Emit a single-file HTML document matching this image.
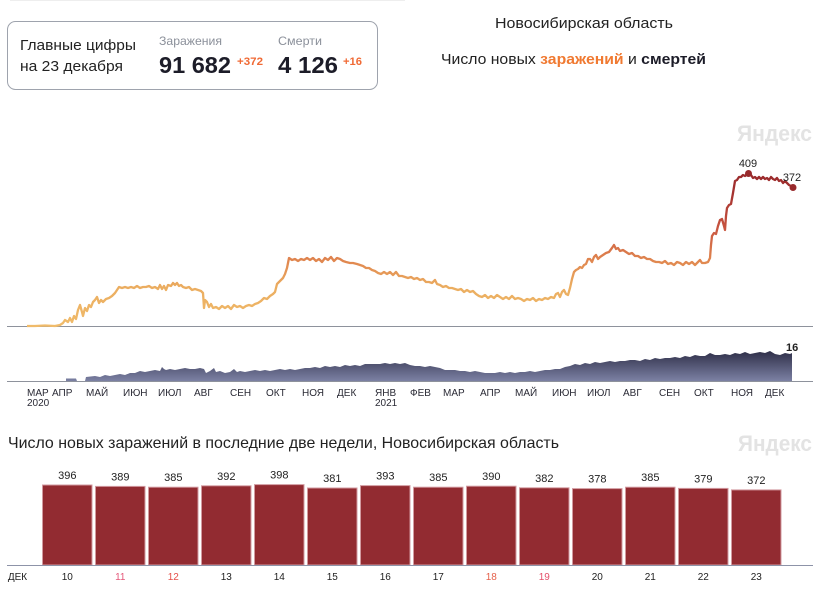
<!DOCTYPE html>
<html><head><meta charset="utf-8"><style>
html,body{margin:0;padding:0;background:#fff;}
svg{display:block;font-family:"Liberation Sans","DejaVu Sans",sans-serif;}
</style></head><body>
<svg width="837" height="593" viewBox="0 0 837 593" xmlns="http://www.w3.org/2000/svg">
<defs>
<linearGradient id="lg" gradientUnits="userSpaceOnUse" x1="0" y1="326" x2="0" y2="170">
<stop offset="0" stop-color="#f0bb6a"/>
<stop offset="0.25" stop-color="#ebad60"/>
<stop offset="0.42" stop-color="#e0864f"/>
<stop offset="0.62" stop-color="#c95640"/>
<stop offset="0.85" stop-color="#a53230"/>
<stop offset="1" stop-color="#982a2c"/>
</linearGradient>
<linearGradient id="ag" gradientUnits="userSpaceOnUse" x1="0" y1="350" x2="0" y2="381">
<stop offset="0" stop-color="#2c2c45"/>
<stop offset="1" stop-color="#7c81a4"/>
</linearGradient>
</defs>
<rect x="0" y="0" width="837" height="593" fill="#fff"/>
<line x1="10" y1="0.5" x2="405" y2="0.5" stroke="#eeeeee" stroke-width="1"/>

<!-- card -->
<rect x="7.5" y="21.5" width="370" height="68" rx="8" ry="8" fill="#fff" stroke="#9ea3ad" stroke-width="1"/>
<text x="20" y="50" font-size="15" fill="#222" textLength="116" lengthAdjust="spacingAndGlyphs">Главные цифры</text>
<text x="20" y="71" font-size="15" fill="#222" textLength="103" lengthAdjust="spacingAndGlyphs">на 23 декабря</text>
<text x="159" y="45" font-size="12" fill="#8b909a" textLength="63" lengthAdjust="spacingAndGlyphs">Заражения</text>
<text x="159" y="73" font-size="23" font-weight="bold" fill="#1c1c28" textLength="72" lengthAdjust="spacingAndGlyphs">91 682</text>
<text x="237" y="65" font-size="11" font-weight="bold" fill="#f06a35" textLength="26" lengthAdjust="spacingAndGlyphs">+372</text>
<text x="278" y="45" font-size="12" fill="#8b909a" textLength="44" lengthAdjust="spacingAndGlyphs">Смерти</text>
<text x="278" y="73" font-size="23" font-weight="bold" fill="#1c1c28" textLength="60" lengthAdjust="spacingAndGlyphs">4 126</text>
<text x="343" y="65" font-size="11" font-weight="bold" fill="#f06a35" textLength="19" lengthAdjust="spacingAndGlyphs">+16</text>

<!-- titles -->
<text x="495" y="28" font-size="15" fill="#222" textLength="178" lengthAdjust="spacingAndGlyphs">Новосибирская область</text>
<text x="441" y="64" font-size="15" fill="#222" textLength="265" lengthAdjust="spacingAndGlyphs">Число новых <tspan fill="#f07a32" font-weight="bold">заражений</tspan> и <tspan font-weight="bold" fill="#1c1c28">смертей</tspan></text>

<!-- watermark -->
<text x="737" y="141" font-size="22" font-weight="bold" fill="#e3e3e3" textLength="75" lengthAdjust="spacingAndGlyphs">Яндекс</text>

<!-- axes lines -->
<line x1="7" y1="326.5" x2="813" y2="326.5" stroke="#8e929c" stroke-width="1"/>
<line x1="7" y1="381.5" x2="813" y2="381.5" stroke="#8e929c" stroke-width="1"/>

<!-- deaths area -->
<path fill="url(#ag)" d="M27,381 L66,381 L66,378.5 L76,378.5 L77,381 L85,381 L86,377 L95,376 L100,377 L105,375 L110,376 L115,375 L120,374 L125,375 L130,373 L135,373 L140,371 L145,372 L150,371 L155,370 L160,371 L162,367 L164,369 L166,370 L170,369 L175,370 L180,369 L185,368 L190,369 L195,369 L200,368 L204,369 L206,373 L210,371 L214,368 L216,372 L220,371 L225,373 L230,372 L234,369 L237,372 L240,371 L245,372 L250,371 L255,370 L260,371 L265,370 L270,371 L275,370 L280,369 L285,370 L290,369 L295,370 L300,369 L305,368 L310,368 L315,367 L320,368 L325,366 L330,367 L335,366 L340,367 L345,365 L350,366 L355,365 L360,366 L365,364 L370,364 L375,364 L380,364 L385,363 L390,364 L395,363 L400,364 L405,363 L410,365 L415,366 L420,366 L425,367 L430,366 L435,367 L440,368 L445,370 L450,370 L455,370 L460,371 L465,371 L470,372 L475,371 L480,372 L485,373 L490,373 L495,373 L500,372 L505,373 L510,372 L515,373 L520,372 L525,372 L530,371 L535,372 L540,371 L545,370 L550,370 L555,369 L560,369 L565,367 L570,366 L575,364 L580,365 L585,363 L590,364 L595,362 L600,363 L605,362 L610,361 L615,362 L620,361 L625,361 L630,360 L635,360 L640,361 L645,359 L650,360 L655,358 L660,359 L665,358 L670,358 L675,357 L680,358 L685,356 L690,357 L695,355 L700,356 L705,356 L710,353 L715,355 L720,355 L725,354 L730,355 L735,353 L740,354 L745,352 L750,354 L755,353 L760,352 L765,353 L770,351 L775,354 L780,355 L785,353 L790,354 L792,353 L792,381 Z"/>
<text x="786" y="351" font-size="11" font-weight="bold" fill="#222">16</text>

<!-- cases line -->
<path fill="none" stroke="url(#lg)" stroke-width="2.3" stroke-linejoin="round" d="M27,326 L35,326 L45,325.5 L55,326 L60,325 L63,323 L65,320 L68,322 L70,318 L72,322 L74,316 L76,319 L78,310 L80,305 L82,312 L83,316 L85,308 L87,311 L89,305 L91,307 L93,302 L95,300 L97,297 L99,303 L101,300 L103,302 L106,299 L109,298 L112,296 L115,293 L117,290 L119,287 L122,288 L125,287 L128,288 L131,287 L134,288 L137,286 L140,288 L143,287 L146,287 L149,286 L152,288 L155,287 L158,289 L160,285 L162,289 L164,286 L166,290 L168,285 L171,286 L173,283 L175,285 L177,283 L179,286 L181,285 L183,287 L186,288 L189,287 L192,290 L195,289 L198,290 L201,291 L203,293 L204,308 L205,300 L207,302 L209,307 L211,304 L213,308 L216,307 L219,309 L222,306 L225,308 L228,306 L231,309 L234,305 L237,307 L240,306 L243,308 L246,306 L249,305 L252,306 L255,304 L258,303 L261,301 L264,298 L267,299 L270,296 L273,294 L275,292 L277,284 L279,282 L281,280 L283,278 L285,274 L287,268 L289,258 L292,260 L295,259 L298,261 L301,259 L304,260 L307,258 L310,260 L313,258 L316,261 L319,259 L322,262 L325,258 L328,260 L331,257 L334,261 L337,258 L340,259 L343,261 L346,262 L350,263 L353,263 L357,264 L360,265 L363,266 L366,268 L369,268 L372,270 L375,271 L378,273 L381,274 L384,272 L387,274 L390,272 L393,275 L396,272 L399,276 L402,276 L405,277 L408,278 L411,277 L414,279 L417,278 L420,280 L423,279 L426,282 L429,282 L432,283 L435,280 L437,284 L440,285 L443,287 L446,286 L449,288 L452,288 L455,289 L458,290 L461,289 L464,292 L467,290 L470,292 L473,291 L476,294 L479,296 L482,297 L485,295 L488,298 L491,296 L494,298 L497,295 L500,297 L503,299 L506,297 L509,299 L512,296 L515,299 L518,298 L521,299 L524,301 L527,299 L530,300 L533,298 L536,301 L539,299 L542,300 L545,298 L548,299 L551,297 L554,298 L556,294 L558,293 L560,297 L562,292 L564,290 L566,294 L568,295 L570,288 L572,279 L574,272 L576,270 L578,269 L580,267 L582,268 L584,265 L586,264 L588,259 L590,259 L592,262 L594,257 L596,255 L598,259 L600,257 L603,255 L606,253 L609,252 L612,248 L614,245 L616,249 L618,248 L620,251 L623,250 L626,252 L629,254 L632,253 L635,256 L638,256 L641,258 L644,257 L647,259 L650,259 L653,261 L656,262 L659,262 L662,263 L665,261 L668,264 L671,263 L674,265 L677,262 L680,263 L683,265 L686,262 L689,264 L692,262 L695,265 L698,262 L700,260 L702,263 L705,263 L708,262 L710,258 L711,245 L712,236 L714,233 L716,234 L718,226 L720,220 L722,219 L724,226 L725,230 L726,216 L727,208 L729,205 L731,204 L733,193 L735,181 L737,180 L739,177 L741,177 L743,175 L745,176 L747,174 L749,173 L751,175 L753,178 L755,177 L757,179 L759,177 L761,179 L763,177 L765,179 L767,178 L769,180 L771,177 L773,179 L775,180 L777,178 L779,181 L781,180 L783,183 L785,181 L787,183 L789,185 L791,186 L793,188"/>
<circle cx="748.5" cy="173.5" r="3.5" fill="#982a2c"/>
<circle cx="793" cy="187.5" r="3.5" fill="#982a2c"/>
<text x="748" y="167" font-size="11" fill="#222" text-anchor="middle">409</text>
<text x="792" y="181" font-size="11" fill="#222" text-anchor="middle">372</text>

<!-- month labels -->
<g font-size="10" fill="#2a2a35">
<text x="27" y="396">МАР</text>
<text x="52" y="396">АПР</text>
<text x="86" y="396">МАЙ</text>
<text x="123" y="396">ИЮН</text>
<text x="158" y="396">ИЮЛ</text>
<text x="194" y="396">АВГ</text>
<text x="230" y="396">СЕН</text>
<text x="266" y="396">ОКТ</text>
<text x="302" y="396">НОЯ</text>
<text x="337" y="396">ДЕК</text>
<text x="375" y="396">ЯНВ</text>
<text x="410" y="396">ФЕВ</text>
<text x="443" y="396">МАР</text>
<text x="480" y="396">АПР</text>
<text x="515" y="396">МАЙ</text>
<text x="552" y="396">ИЮН</text>
<text x="587" y="396">ИЮЛ</text>
<text x="623" y="396">АВГ</text>
<text x="659" y="396">СЕН</text>
<text x="694" y="396">ОКТ</text>
<text x="731" y="396">НОЯ</text>
<text x="765" y="396">ДЕК</text>
<text x="27" y="406">2020</text>
<text x="375" y="406">2021</text>
</g>

<!-- bar chart -->
<text x="8" y="448" font-size="16" fill="#222" textLength="551" lengthAdjust="spacingAndGlyphs">Число новых заражений в последние две недели, Новосибирская область</text>
<text x="738" y="451" font-size="22" font-weight="bold" fill="#e3e3e3" textLength="74" lengthAdjust="spacingAndGlyphs">Яндекс</text>

<g fill="#922b31" stroke="#d29aa0" stroke-width="1">
<rect x="42.5" y="485.0" width="49.5" height="80.0"/>
<rect x="95.5" y="486.4" width="49.5" height="78.6"/>
<rect x="148.5" y="487.2" width="49.5" height="77.8"/>
<rect x="201.5" y="485.8" width="49.5" height="79.2"/>
<rect x="254.5" y="484.6" width="49.5" height="80.4"/>
<rect x="307.5" y="488.0" width="49.5" height="77.0"/>
<rect x="360.5" y="485.6" width="49.5" height="79.4"/>
<rect x="413.5" y="487.2" width="49.5" height="77.8"/>
<rect x="466.5" y="486.2" width="49.5" height="78.8"/>
<rect x="519.5" y="487.8" width="49.5" height="77.2"/>
<rect x="572.5" y="488.6" width="49.5" height="76.4"/>
<rect x="625.5" y="487.2" width="49.5" height="77.8"/>
<rect x="678.5" y="488.4" width="49.5" height="76.6"/>
<rect x="731.5" y="489.9" width="49.5" height="75.1"/>
</g>
<line x1="7" y1="565.5" x2="813" y2="565.5" stroke="#8d93a8" stroke-width="1"/>

<g font-size="11" fill="#222" text-anchor="middle">
<text x="67.3" y="479">396</text>
<text x="120.3" y="480.4">389</text>
<text x="173.3" y="481.2">385</text>
<text x="226.3" y="479.8">392</text>
<text x="279.3" y="478.6">398</text>
<text x="332.3" y="482">381</text>
<text x="385.3" y="479.6">393</text>
<text x="438.3" y="481.2">385</text>
<text x="491.3" y="480.2">390</text>
<text x="544.3" y="481.8">382</text>
<text x="597.3" y="482.6">378</text>
<text x="650.3" y="481.2">385</text>
<text x="703.3" y="482.4">379</text>
<text x="756.3" y="483.9">372</text>
</g>

<g font-size="10" fill="#222" text-anchor="middle">
<text x="17.5" y="580">ДЕК</text>
<text x="67.3" y="580">10</text>
<text x="120.3" y="580" fill="#e4587a">11</text>
<text x="173.3" y="580" fill="#e5504a">12</text>
<text x="226.3" y="580">13</text>
<text x="279.3" y="580">14</text>
<text x="332.3" y="580">15</text>
<text x="385.3" y="580">16</text>
<text x="438.3" y="580">17</text>
<text x="491.3" y="580" fill="#e5604a">18</text>
<text x="544.3" y="580" fill="#e4506a">19</text>
<text x="597.3" y="580">20</text>
<text x="650.3" y="580">21</text>
<text x="703.3" y="580">22</text>
<text x="756.3" y="580">23</text>
</g>
</svg>
</body></html>
